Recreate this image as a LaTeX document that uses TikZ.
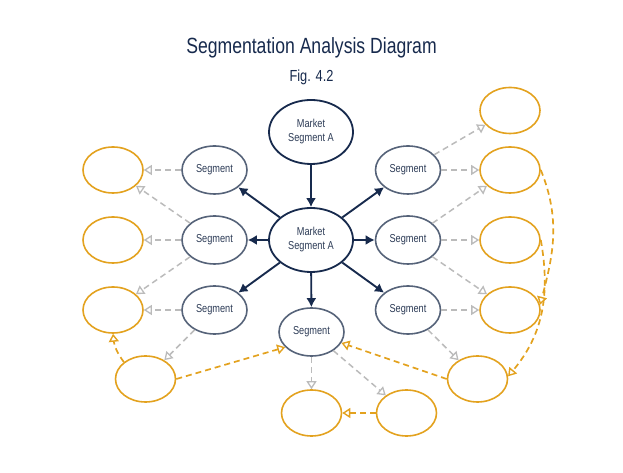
\documentclass[tikz,border=0pt]{standalone}
\usepackage{fontspec}
\setmainfont{Liberation Sans}[FakeStretch=0.8]
\usetikzlibrary{shapes.geometric,arrows.meta}
\definecolor{navy}{HTML}{172A4D}
\definecolor{txtc}{HTML}{2B3A55}
\definecolor{segc}{HTML}{566379}
\definecolor{orng}{HTML}{E3A21F}
\definecolor{grayd}{HTML}{BBBBBB}
\begin{document}
\begin{tikzpicture}[x=1pt,y=1pt,
  mainnode/.style={ellipse,draw=navy,line width=1.8pt,minimum width=84pt,minimum height=64pt,inner sep=0pt,align=center,font=\fontsize{11.5}{14}\selectfont,text=txtc},
  segnode/.style={ellipse,draw=segc,line width=1.6pt,minimum width=65pt,minimum height=48pt,inner sep=0pt,font=\fontsize{11.5}{14}\selectfont,text=txtc},
  onode/.style={ellipse,draw=orng,line width=1.6pt,minimum width=60pt,minimum height=46pt,inner sep=0pt},
  navyarr/.style={draw=navy,line width=1.9pt,-{Latex[length=9pt,width=10pt]}},
  grayarr/.style={draw=grayd,line width=1.5pt,dash pattern=on 6pt off 4pt,-{Triangle[open,length=8pt,width=10pt,line width=1.3pt]}},
  orarr/.style={draw=orng,line width=1.7pt,dash pattern=on 6pt off 4pt,-{Triangle[open,length=8pt,width=10pt,line width=1.4pt]}}
]
\useasboundingbox (0,0) rectangle (623,473);
\node[anchor=base,text=navy,font=\fontsize{22}{26}\selectfont] (title) at (311.5,419) {Segmentation Analysis Diagram};
\node[anchor=base,text=navy,font=\fontsize{16}{20}\selectfont] (fig) at (311.5,391) {Fig. 4.2};

\node[mainnode] (ma) at (311,341) {Market\\Segment A};
\node[mainnode] (c) at (311,233) {Market\\Segment A};

\node[segnode] (ls1) at (214.5,303) {Segment};
\node[segnode] (ls2) at (214.5,233) {Segment};
\node[segnode] (ls3) at (214.5,163) {Segment};
\node[segnode] (rs1) at (408,303) {Segment};
\node[segnode] (rs2) at (408,233) {Segment};
\node[segnode] (rs3) at (408,163) {Segment};
\node[segnode] (bs) at (311.5,141) {Segment};

\node[onode] (lo1) at (113,303) {};
\node[onode] (lo2) at (113,233) {};
\node[onode] (lo3) at (113,163) {};
\node[onode] (lb) at (145.5,94) {};
\node[onode] (bo1) at (311.5,60) {};
\node[onode] (bo2) at (406.5,60) {};
\node[onode] (lr) at (477.5,94) {};
\node[onode] (ro1) at (510,362.5) {};
\node[onode] (ro2) at (510,303) {};
\node[onode] (ro3) at (510,233) {};
\node[onode] (ro4) at (510,163) {};

\draw[navyarr] (ma) -- (c);
\draw[navyarr] (c) -- (ls1);
\draw[navyarr] (c) -- (ls2);
\draw[navyarr] (c) -- (ls3);
\draw[navyarr] (c) -- (rs1);
\draw[navyarr] (c) -- (rs2);
\draw[navyarr] (c) -- (rs3);
\draw[navyarr] (c) -- (bs);

\draw[grayarr] (ls1) -- (lo1);
\draw[grayarr] (ls2) -- (lo2);
\draw[grayarr] (ls2) -- (lo1);
\draw[grayarr] (ls2) -- (lo3);
\draw[grayarr] (ls3) -- (lo3);
\draw[grayarr] (ls3) -- (lb);
\draw[grayarr] (rs1) -- (ro1);
\draw[grayarr] (rs1) -- (ro2);
\draw[grayarr] (rs2) -- (ro2);
\draw[grayarr] (rs2) -- (ro3);
\draw[grayarr] (rs2) -- (ro4);
\draw[grayarr] (rs3) -- (ro4);
\draw[grayarr] (rs3) -- (lr);
\draw[grayarr] (bs) -- (bo1);
\draw[grayarr] (bs) -- (bo2);

\draw[orarr] (lb.142) to[bend left=15] (lo3.south);
\draw[orarr] (lb.east) -- (bs.210);
\draw[orarr] (lr.west) -- (bs.-20);
\draw[orarr] (bo2.west) -- (bo1.east);
\draw[orarr] (ro2.east) to[out=-68,in=75] (ro4.10);
\draw[orarr] (ro3.east) to[out=-80,in=50] (lr.5);
\end{tikzpicture}
\end{document}
